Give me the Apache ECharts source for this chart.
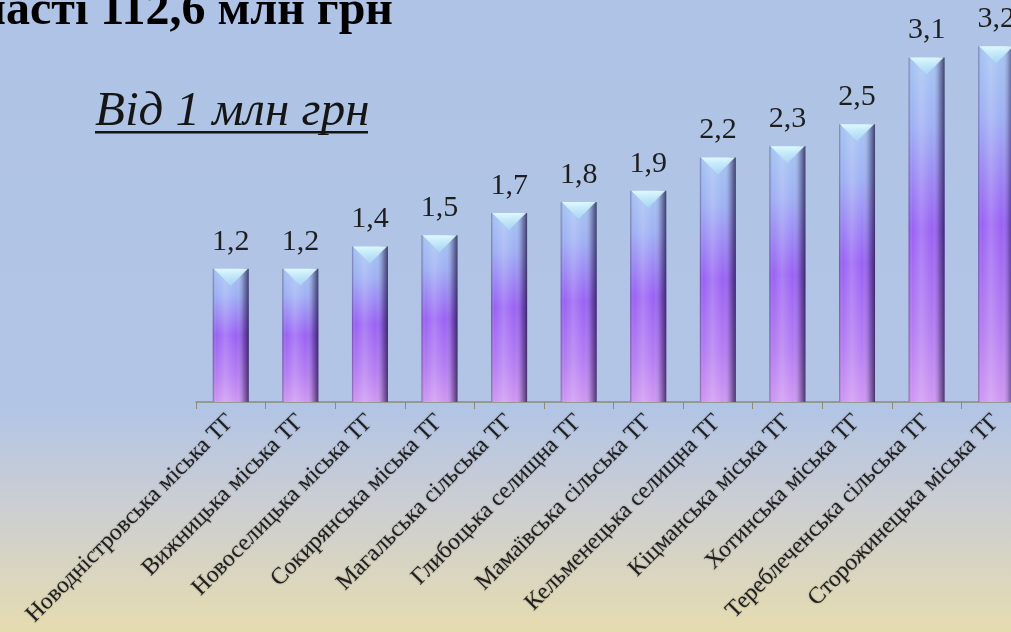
<!DOCTYPE html>
<html>
<head>
<meta charset="utf-8">
<style>
	html, body { margin: 0; padding: 0; }
	#main { width: 1011px; height: 632px; }
</style>
<script src="https://cdn.jsdelivr.net/npm/echarts@6/dist/echarts.min.js"></script>
</head>
<body>
<div id="main"></div>
<script>
// громади
var categories = [
	'Новодністровська міська ТГ',
	'Вижницька міська ТГ',
	'Новоселицька міська ТГ',
	'Сокирянська міська ТГ',
	'Магальська сільська ТГ',
	'Глибоцька селищна ТГ',
	'Мамаївська сільська ТГ',
	'Кельменецька селищна ТГ',
	'Кіцманська міська ТГ',
	'Хотинська міська ТГ',
	'Тереблеченська сільська ТГ',
	'Сторожинецька міська ТГ'
];
// млн грн
var values = [1.2, 1.2, 1.4, 1.5, 1.7, 1.8, 1.9, 2.2, 2.3, 2.5, 3.1, 3.2];

var titleText = 'Всього по області 112,6 млн грн';
var subText = 'Від 1 млн грн';

var myChart = echarts.init(document.getElementById('main'));
var serif = 'Liberation Serif, Times New Roman, serif';

var option = {
	backgroundColor: new echarts.graphic.LinearGradient(0, 0, 0, 1, [
		{ offset: 0, color: '#aec3e6' },
		{ offset: 0.65, color: '#b3c5e5' },
		{ offset: 0.8, color: '#ccced2' },
		{ offset: 1, color: '#e6dcb0' }
	]),
	animation: false,
	graphic: [{
		type: 'text',
		x: 393,
		y: 12,
		style: {
			text: titleText,
			align: 'right',
			verticalAlign: 'middle',
			font: 'bold 48px ' + serif,
			fill: '#000'
		}
	}, {
		type: 'text',
		x: 95,
		y: 112,
		style: {
			text: subText,
			align: 'left',
			verticalAlign: 'middle',
			font: 'italic 49px ' + serif,
			fill: '#151515'
		}
	}, {
		type: 'rect',
		shape: { x: 95, y: 131, width: 273, height: 2.5 },
		style: { fill: '#151515' }
	}],
	grid: {
		left: 196,
		top: 13,
		width: 835,
		height: 389,
		containLabel: false,
		outerBoundsMode: 'none'
	},
	xAxis: {
		type: 'category',
		data: categories,
		axisLine: { lineStyle: { color: '#8c8a78', width: 1.5 } },
		axisTick: { show: true, interval: 0, length: 7, lineStyle: { color: '#8c8a78' } },
		axisLabel: {
			interval: 0,
			rotate: 45,
			margin: 16,
			color: '#1e1e1e',
			fontFamily: serif,
			fontSize: 23.5,
			textShadowColor: 'rgba(0,0,0,0.35)',
			textShadowBlur: 2
		}
	},
	yAxis: {
		type: 'value',
		min: 0,
		max: 3.5,
		show: false,
		splitLine: { show: false }
	},
	series: [{
		// основне тіло стовпчика
		type: 'bar',
		data: values,
		barWidth: 36,
		z: 2,
		itemStyle: {
			color: new echarts.graphic.LinearGradient(0, 0, 0, 1, [
				{ offset: 0, color: '#a6c6f2' },
				{ offset: 0.2, color: '#9fb0f4' },
				{ offset: 0.5, color: '#9a62f4' },
				{ offset: 0.8, color: '#b57ef2' },
				{ offset: 1, color: '#cf98f2' }
			])
		},
		label: {
			show: true,
			position: 'top',
			distance: 12,
			color: '#1e1e1e',
			fontFamily: serif,
			fontSize: 30,
			formatter: function (p) {
				return p.value.toFixed(1).replace('.', ',');
			}
		}
	}, {
		// тінь по краях
		type: 'bar',
		data: values,
		barWidth: 36,
		barGap: '-100%',
		z: 3,
		silent: true,
		itemStyle: {
			color: new echarts.graphic.LinearGradient(0, 0, 1, 0, [
				{ offset: 0, color: 'rgba(40,30,90,0.45)' },
				{ offset: 0.1, color: 'rgba(255,255,255,0)' },
				{ offset: 0.35, color: 'rgba(255,255,255,0.18)' },
				{ offset: 0.65, color: 'rgba(255,255,255,0)' },
				{ offset: 0.85, color: 'rgba(40,30,80,0.3)' },
				{ offset: 1, color: 'rgba(30,20,60,0.75)' }
			])
		}
	}, {
		// трикутна "кришка" зверху
		type: 'pictorialBar',
		data: values,
		symbol: 'path://M0,0 L10,0 L5,5 Z',
		symbolSize: [34, 17],
		symbolPosition: 'end',
		symbolOffset: [0, 0],
		z: 4,
		silent: true,
		itemStyle: {
			color: new echarts.graphic.LinearGradient(0, 0, 0, 1, [
				{ offset: 0, color: 'rgba(225,252,255,0.95)' },
				{ offset: 1, color: 'rgba(170,225,245,0.6)' }
			])
		}
	}]
};
myChart.setOption(option);
</script>
</body>
</html>
